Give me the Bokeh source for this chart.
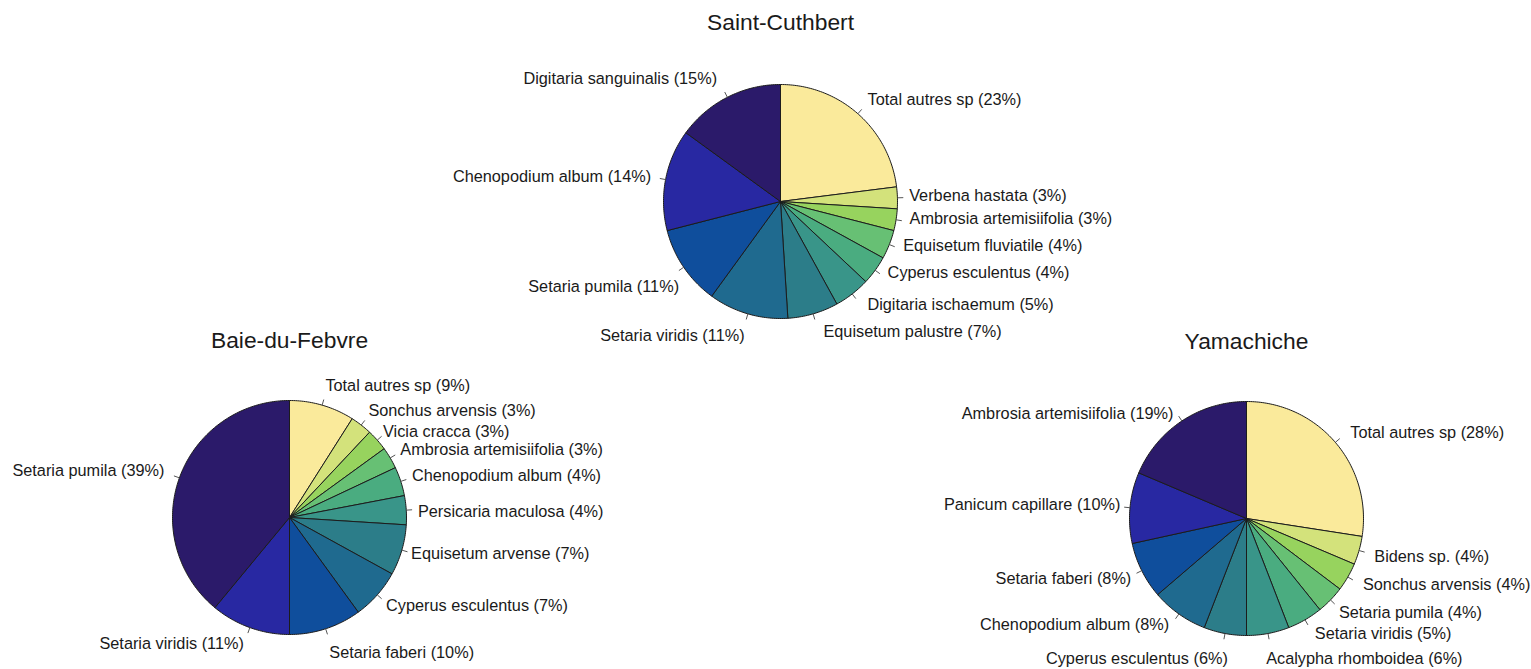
import numpy as np
from bokeh.plotting import figure
from bokeh.models import Range1d, ColumnDataSource
from bokeh.core.properties import value, field
from bokeh.embed import file_html
from bokeh.resources import INLINE

# ---------------- data ----------------
titles = ["Saint-Cuthbert", "Baie-du-Febvre", "Yamachiche"]

sc_species = ["Total autres sp", "Verbena hastata", "Ambrosia artemisiifolia",
              "Equisetum fluviatile", "Cyperus esculentus", "Digitaria ischaemum",
              "Equisetum palustre", "Setaria viridis", "Setaria pumila",
              "Chenopodium album", "Digitaria sanguinalis"]
sc_pct = [23, 3, 3, 4, 4, 5, 7, 11, 11, 14, 15]

bdf_species = ["Total autres sp ", "Sonchus arvensis ", "Vicia cracca",
               "Ambrosia artemisiifolia", "Chenopodium album", "Persicaria maculosa",
               "Equisetum arvense", "Cyperus esculentus", "Setaria faberi",
               "Setaria viridis", "Setaria pumila"]
bdf_pct = [9, 3, 3, 3, 4, 4, 7, 7, 10, 11, 39]

yam_species = ["Total autres sp", "Bidens sp.", "Sonchus arvensis", "Setaria pumila",
               "Setaria viridis", "Acalypha rhomboidea", "Cyperus esculentus",
               "Chenopodium album", "Setaria faberi", "Panicum capillare",
               "Ambrosia artemisiifolia"]
yam_pct = [28, 4, 4, 4, 5, 6, 6, 8, 8, 10, 19]

palette = ["#FAEA9B", "#D3E27B", "#97D35E", "#67C074", "#4AAC80", "#399589",
           "#2C7D89", "#1F6A8F", "#0F4E9C", "#2828A2", "#2B1A6A"]

# ---------------- layout ----------------
W, H = 1531, 669
centers = [(780, 201), (289, 517), (1246, 518)]
title_y = [21, 339, 340]
R = 117
LAB_RX, LAB_RY = 1.10, 1.17
TICK_IN, TICK_OUT = 1.0, 1.05
# small hand placement adjustments of the labels (pixels), as in the reference
nudges = [
    [(2, 0), (0, -2), (2, -5), (3, -7), (3, -10), (8, -6), (7, -2), (0, 2), (5, 8), (-3, 0), (-5, -2)],
    [(0, -1), (0, 1), (-3, 4), (0, 1), (0, 0), (0, 2), (-2, -3), (0, -3), (0, 4), (-2, -3), (-4, -1)],
    [(6, 3), (4, 0), (5, -3), (0, -2), (4, -4), (-4, 5), (5, 5), (-3, -6), (0, -2), (2, -2), (-2, 9)],
]

p = figure(width=W, height=H, output_backend="svg", toolbar_location=None,
           x_range=Range1d(0, W), y_range=Range1d(H, 0),
           min_border=0, x_axis_location=None, y_axis_location=None)
p.grid.visible = False
p.outline_line_color = None
p.background_fill_color = "white"
p.border_fill_color = "white"

pies = [(sc_species, sc_pct), (bdf_species, bdf_pct), (yam_species, yam_pct)]

for (species, pct), (cx, cy), title, ty, nud in zip(pies, centers, titles, title_y, nudges):
    vals = np.array(pct, dtype=float)
    frac = vals / vals.sum()
    edges = np.concatenate([[0.0], np.cumsum(frac)]) * 2 * np.pi
    xs, ys = [], []
    for a0, a1 in zip(edges[:-1], edges[1:]):
        n = max(3, int(np.degrees(a1 - a0)) + 2)
        t = np.linspace(a0, a1, n)
        xs.append(list(np.concatenate([[cx], cx + R * np.sin(t)])))
        ys.append(list(np.concatenate([[cy], cy - R * np.cos(t)])))
    p.patches(xs, ys, fill_color=palette[:len(xs)], line_color="#1c1c1c",
              line_width=1)

    mid = (edges[:-1] + edges[1:]) / 2
    s, c = np.sin(mid), np.cos(mid)
    p.segment(x0=cx + TICK_IN * R * s, y0=cy - TICK_IN * R * c,
              x1=cx + TICK_OUT * R * s, y1=cy - TICK_OUT * R * c,
              line_color="#555555", line_width=1)

    labels = [f"{n} ({v}%)" for n, v in zip(species, pct)]
    dx = np.array([d[0] for d in nud], dtype=float)
    dy = np.array([d[1] for d in nud], dtype=float)
    lx = cx + LAB_RX * R * s + dx
    ly = np.minimum(cy - LAB_RY * R * c + dy, H - 9)
    src = ColumnDataSource(dict(
        x=lx, y=ly, text=labels,
        align=["right" if si < -1e-9 else "left" for si in s]))
    p.text(x="x", y="y", text="text", source=src, text_align=field("align"),
           text_baseline="middle", text_font=value("Liberation Sans"),
           text_font_size="16.3px", text_color="#1a1a1a")

    p.text(x=[cx], y=[ty], text=[title], text_align="center",
           text_baseline="middle", text_font=value("Liberation Sans"),
           text_font_size="22.8px", text_color="#1a1a1a")

open("out.html", "w").write(file_html(p, INLINE))
